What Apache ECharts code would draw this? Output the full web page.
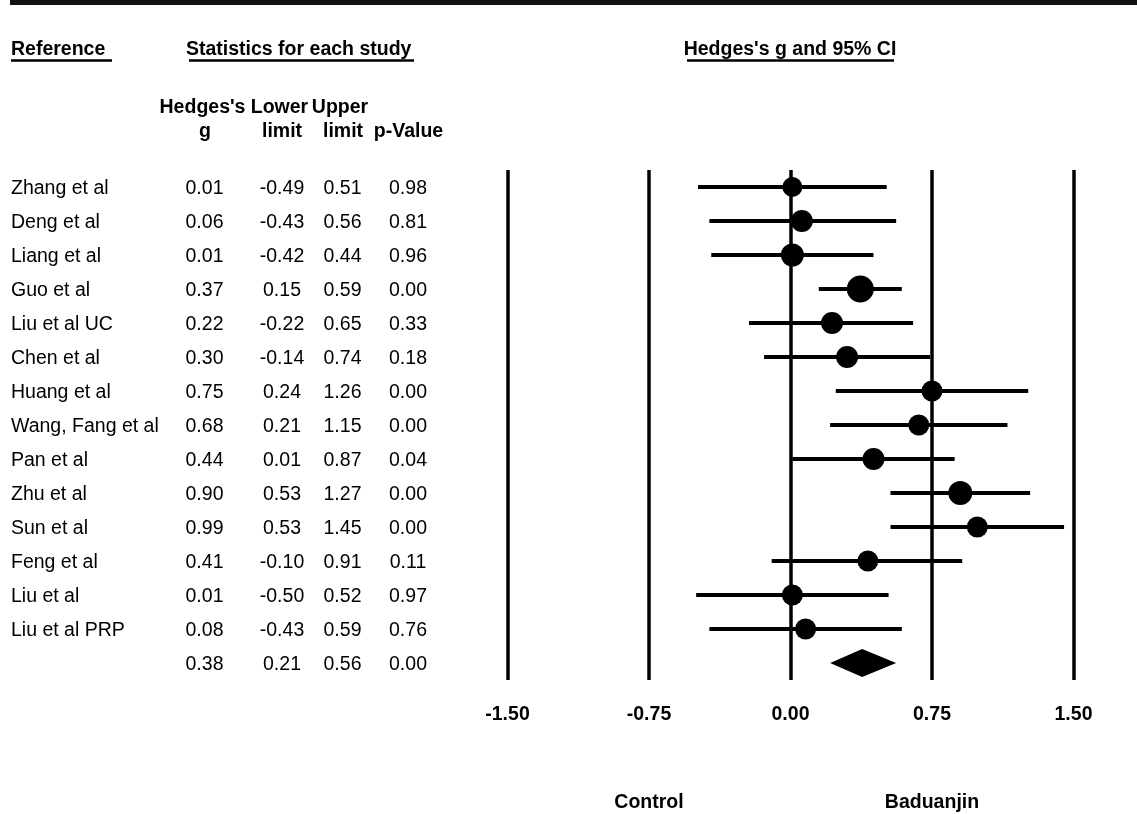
<!DOCTYPE html>
<html>
<head>
<meta charset="utf-8">
<script src="https://cdn.jsdelivr.net/npm/echarts@6/dist/echarts.min.js"></script>
<style>
html,body{margin:0;padding:0;background:#fff;}
#chart{width:1137px;height:814px;}
</style>
</head>
<body>
<div id="chart"></div>
<script>
// ---- data ----
var studies = ['Zhang et al','Deng et al','Liang et al','Guo et al','Liu et al UC','Chen et al','Huang et al','Wang, Fang et al','Pan et al','Zhu et al','Sun et al','Feng et al','Liu et al','Liu et al PRP'];
var hedgesG = [0.01,0.06,0.01,0.37,0.22,0.30,0.75,0.68,0.44,0.90,0.99,0.41,0.01,0.08];
var lowerLimit = [-0.49,-0.43,-0.42,0.15,-0.22,-0.14,0.24,0.21,0.01,0.53,0.53,-0.10,-0.50,-0.43];
var upperLimit = [0.51,0.56,0.44,0.59,0.65,0.74,1.26,1.15,0.87,1.27,1.45,0.91,0.52,0.59];
var pValue = [0.98,0.81,0.96,0.00,0.33,0.18,0.00,0.00,0.04,0.00,0.00,0.11,0.97,0.76];
var markerSizes = [20,22,23,27,22,22,21,21,22,24,21,21,21,21];
var summary = {g:0.38, lower:0.21, upper:0.56, p:0.00};
var xTicks = [-1.50,-0.75,0.00,0.75,1.50];
var leftLabel = 'Control';
var rightLabel = 'Baduanjin';

// ---- build ----
var FONT = '"Liberation Sans", Arial, sans-serif';
var rows = studies.concat(['']);
var nStudy = studies.length;
var sumRow = nStudy;

function fmt(v){ return v.toFixed(2); }

var ciData = [];
var ptData = [];
for (var i=0;i<nStudy;i++){
  ciData.push([lowerLimit[i], upperLimit[i], i]);
  ptData.push([hedgesG[i], i, markerSizes[i]]);
}

function textColumn(colX, texts, align, bold){
  var d = [];
  for (var i=0;i<texts.length;i++) d.push([colX, i, texts[i]]);
  return {
    type:'custom', xAxisIndex:1, yAxisIndex:1, silent:true, data:d,
    renderItem:function(params, api){
      var p = api.coord([api.value(0), api.value(1)]);
      var t = d[params.dataIndex][2];
      return {type:'text', x:p[0], y:p[1]+2, style:{text:t, fill:'#000', font:(bold?'bold ':'')+'19.5px '+FONT, textAlign:align, textVerticalAlign:'middle'}};
    }
  };
}

var gTexts = hedgesG.map(fmt).concat([fmt(summary.g)]);
var loTexts = lowerLimit.map(fmt).concat([fmt(summary.lower)]);
var upTexts = upperLimit.map(fmt).concat([fmt(summary.upper)]);
var pTexts = pValue.map(fmt).concat([fmt(summary.p)]);

var chart = echarts.init(document.getElementById('chart'), null, {renderer:'canvas'});
function hdr(text, x, y, align){
  return {type:'text', x:x, y:y, style:{text:text, font:'bold 19.5px '+FONT, fill:'#000', textAlign:align||'center', textVerticalAlign:'middle'}};
}
var option = {
  animation:false,
  backgroundColor:'#fff',
  grid:[
    {left:507.5, top:170, width:566, height:510},
    {left:0, top:170, width:500, height:510}
  ],
  xAxis:[
    {gridIndex:0, type:'value', min:-1.5, max:1.5, interval:0.75,
     axisLine:{show:false}, axisTick:{show:false},
     splitLine:{show:true, lineStyle:{color:'#000', width:3.5}},
     axisLabel:{show:true, margin:25, color:'#000', fontWeight:'bold', fontSize:19.5, fontFamily:FONT,
       formatter:function(v){ return v.toFixed(2); }}},
    {gridIndex:1, type:'value', min:0, max:500, show:false}
  ],
  yAxis:[
    {gridIndex:0, type:'category', data:rows, inverse:true, show:false},
    {gridIndex:1, type:'category', data:rows, inverse:true, show:false}
  ],
  series:[
    {
      type:'custom', xAxisIndex:0, yAxisIndex:0, silent:true, data:ciData, z:3,
      renderItem:function(params, api){
        var a = api.coord([api.value(0), api.value(2)]);
        var b = api.coord([api.value(1), api.value(2)]);
        return {type:'line', shape:{x1:a[0], y1:a[1], x2:b[0], y2:b[1]}, style:{stroke:'#000', lineWidth:4}};
      }
    },
    {
      type:'scatter', xAxisIndex:0, yAxisIndex:0, silent:true, data:ptData, z:4,
      symbol:'circle', symbolSize:function(d){ return d[2]; },
      itemStyle:{color:'#000', opacity:1}
    },
    {
      type:'custom', xAxisIndex:0, yAxisIndex:0, silent:true, z:4,
      data:[[summary.lower, summary.g, summary.upper, sumRow]],
      renderItem:function(params, api){
        var l = api.coord([api.value(0), api.value(3)]);
        var c = api.coord([api.value(1), api.value(3)]);
        var r = api.coord([api.value(2), api.value(3)]);
        var h = 14;
        return {type:'polygon', shape:{points:[[l[0],l[1]],[c[0],c[1]-h],[r[0],r[1]],[c[0],c[1]+h]]}, style:{fill:'#000'}};
      }
    },
    textColumn(11, studies.concat(['']), 'left', false),
    textColumn(204.5, gTexts, 'center', false),
    textColumn(282, loTexts, 'center', false),
    textColumn(342.5, upTexts, 'center', false),
    textColumn(408, pTexts, 'center', false)
  ],
  graphic:[
    {type:'rect', left:10, top:0, shape:{width:1127, height:5}, style:{fill:'#111'}},
    hdr('Reference', 11, 50, 'left'),
    {type:'line', shape:{x1:11, y1:60.5, x2:112, y2:60.5}, style:{stroke:'#000', lineWidth:2.5}},
    hdr('Statistics for each study', 186, 50, 'left'),
    {type:'line', shape:{x1:189, y1:60.5, x2:414, y2:60.5}, style:{stroke:'#000', lineWidth:2.5}},
    hdr("Hedges's g and 95% CI", 790, 50),
    {type:'line', shape:{x1:687, y1:60.5, x2:894, y2:60.5}, style:{stroke:'#000', lineWidth:2.5}},
    hdr("Hedges's", 202.5, 108),
    hdr('g', 205, 132),
    hdr('Lower', 279.5, 108),
    hdr('limit', 282, 132),
    hdr('Upper', 340, 108),
    hdr('limit', 343, 132),
    hdr('p-Value', 408.5, 132),
    hdr(leftLabel, 649, 803),
    hdr(rightLabel, 932, 803)
  ]
};
chart.setOption(option);
</script>
</body>
</html>
